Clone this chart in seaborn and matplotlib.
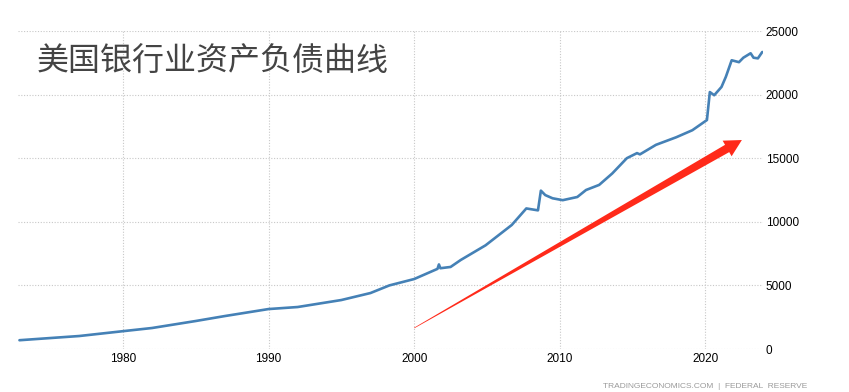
import numpy as np
import pandas as pd
import matplotlib
matplotlib.use("Agg")
import matplotlib.pyplot as plt
import seaborn as sns
from matplotlib.patches import Polygon

# ---- data (billions USD) ----
years = [1972.9, 1975.0, 1977.0, 1980.0, 1982.0, 1985.0, 1987.0, 1990.0, 1992.0,
         1995.0, 1997.0, 1998.3, 2000.0, 2001.6, 2001.7, 2001.8, 2002.5, 2003.2,
         2004.9, 2006.7, 2007.7, 2008.5, 2008.7, 2009.0, 2009.5, 2010.2, 2011.2,
         2011.8, 2012.7, 2013.6, 2014.6, 2015.3, 2015.5, 2016.6, 2018.0, 2019.1,
         2020.1, 2020.3, 2020.6, 2021.1, 2021.4, 2021.8, 2022.3, 2022.6, 2023.1,
         2023.3, 2023.6, 2023.9]
assets = [690, 860, 1020, 1400, 1650, 2200, 2590, 3140, 3300,
          3850, 4400, 5000, 5500, 6300, 6650, 6350, 6450, 7000,
          8150, 9750, 11050, 10900, 12450, 12100, 11850, 11700, 11950,
          12500, 12900, 13800, 15000, 15400, 15300, 16050, 16650, 17200,
          18000, 20200, 19950, 20600, 21400, 22700, 22550, 22900, 23250,
          22900, 22850, 23350]
x_ticks = [1980, 1990, 2000, 2010, 2020]
y_ticks = [0, 5000, 10000, 15000, 20000, 25000]
title = "美国银行业资产负债曲线"
source = "TRADINGECONOMICS.COM  |  FEDERAL  RESERVE"
arrow_start = (2000.0, 1650)
arrow_end = (2022.5, 16430)

df = pd.DataFrame({"year": years, "assets": assets})

sns.set_theme(style="white")
plt.rcParams["font.family"] = ["Liberation Sans", "DejaVu Sans"]

fig = plt.figure(figsize=(8.49, 3.92), dpi=100)
ax = fig.add_axes([18 / 849, 1 - 349 / 392, (763 - 18) / 849, (349 - 31) / 392])

sns.lineplot(data=df, x="year", y="assets", ax=ax, color="#4581b6", linewidth=1.9)

ax.set_xlim(1972.8, 2023.95)
ax.set_ylim(0, 25000)
ax.set_xticks(x_ticks)
ax.set_xticklabels([str(v) for v in x_ticks])
ax.set_yticks(y_ticks)
ax.set_yticklabels([str(v) for v in y_ticks])
ax.yaxis.tick_right()
ax.tick_params(axis="both", length=0, labelsize=8.5, labelcolor="black", pad=3)
ax.tick_params(axis="y", pad=2)
ax.set_xlabel("")
ax.set_ylabel("")
for s in ax.spines.values():
    s.set_visible(False)
ax.grid(True, color="#c8c8c8", linestyle=(0, (1, 1.5)), linewidth=0.8)
ax.set_axisbelow(True)

# title inside the plot
ax.text((37 - 18) / 745, (349 - 62) / 318, title,
        transform=ax.transAxes, fontsize=23, color="#444444",
        family=["Noto Sans CJK SC", "DejaVu Sans"], va="center", ha="left")

# source footer at the bottom edge
fig.text(603 / 849, 2 / 392, source, fontsize=6, color="#9a9a9a",
         ha="left", va="bottom")

# tapered red arrow drawn in display space
fig.canvas.draw()
p0 = ax.transData.transform(arrow_start)
p1 = ax.transData.transform(arrow_end)
d = p1 - p0
L = np.hypot(*d)
u = d / L
n = np.array([-u[1], u[0]])
head_len = 17.0
head_w = 9.0
shaft_w = 4.2
base = p1 - u * head_len
pts = [p0 + n * 0.3, base + n * shaft_w, base + n * head_w, p1,
       base - n * head_w, base - n * shaft_w, p0 - n * 0.3]
poly = Polygon(pts, closed=True, transform=None, facecolor="#ff2a1a",
               edgecolor="none", zorder=5)
fig.patches.append(poly)

fig.savefig("out.png", dpi=100)
